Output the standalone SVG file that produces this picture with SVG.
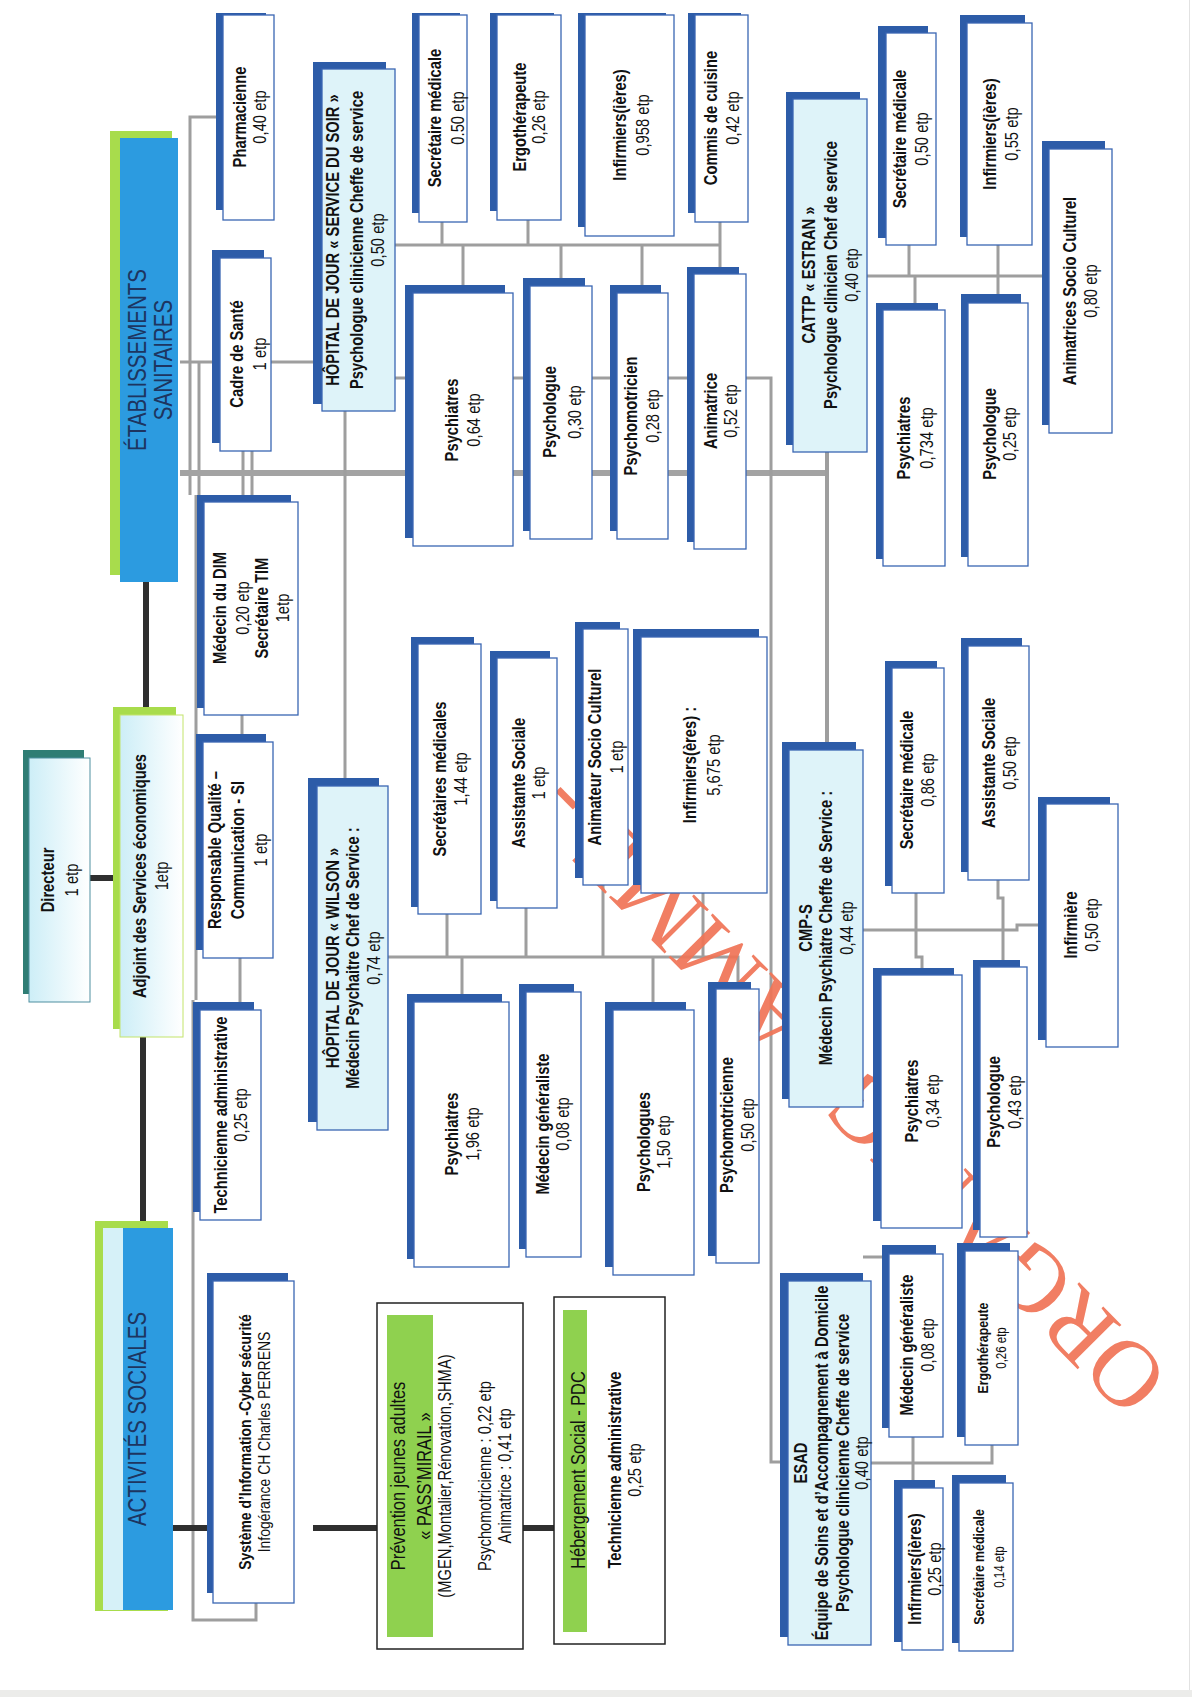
<svg xmlns="http://www.w3.org/2000/svg" width="1192" height="1697" viewBox="0 0 1192 1697">
<defs>
<style>
.bk{fill:#2d5ca8}
.fr{fill:#fff;stroke:#3a66b3;stroke-width:1.3}
.hd{fill:#def3f9;stroke:#3a66b3;stroke-width:1.3}
.gb{fill:#a8dc4c}
.cn{fill:none;stroke:#9e9e9e;stroke-width:3}
.ck{fill:none;stroke:#2f2f2f;stroke-width:6}
.ob{fill:#fff;stroke:#222;stroke-width:1.5}
.gs{fill:#8fd14f}
text{font-family:"Liberation Sans",Arial,sans-serif;font-size:18px;fill:#111;text-anchor:middle}
.b{font-weight:bold}
.t{font-size:25px;fill:#1d3560}
.s{font-size:15px}
.xs{font-size:14px}
.m{font-size:17px}
.l{font-size:20px}
.wm{font-family:"Liberation Serif","Times New Roman",serif;font-size:95px;fill:#f07456;text-anchor:start}
</style>
<linearGradient id="gc" x1="0" x2="1" y1="0" y2="0"><stop offset="0" stop-color="#cdeef7"/><stop offset="1" stop-color="#ffffff"/></linearGradient>
</defs>
<rect x="0" y="0" width="1192" height="1697" fill="#fff"/>
<rect x="0" y="1690" width="1192" height="7" fill="#ececea"/>
<line x1="1189.5" y1="0" x2="1189.5" y2="1690" stroke="#e2e2e2" stroke-width="1"/>

<g id="connectors">
<path class="cn" d="M216,117 H190 V495 M196,495 V1000 M193,1000 V1620 H256 V1600"/>
<path class="cn" d="M199,362 V495"/>
<path class="cn" d="M180,362 H313"/>
<path class="cn" d="M243,451 V495 M252,451 V495"/>
<path class="cn" d="M242,715 V734 M240,958 V1002"/>
<path class="cn" d="M180,473 H827" style="stroke-width:6;stroke:#a3a3a3"/>
<path class="cn" d="M827,452 V742" style="stroke-width:4"/>
<path class="cn" d="M345,411 V778"/>
<path class="cn" d="M395,378 H771 V1462 H780"/>
<path class="cn" d="M395,245 H720 M442,222 V245 M528,220 V245 M720,222 V267 M463,245 V285 M561,245 V278 M642,245 V285"/>
<path class="cn" d="M388,957 H738 V982 M447,914 V957 M526,908 V957 M603,885 V957 M703,893 V957 M462,957 V994 M653,957 V1002"/>
<path class="cn" d="M867,276 H1042 M909,245 V276 M915,276 V303 M998,245 V294"/>
<path class="cn" d="M863,930 H1017 V925 H1038 M916,893 V957 H922 V968 M998,880 V898 H1003 V960"/>
<path class="cn" d="M871,1463 H992 V1445 M913,1437 V1480 M863,1257 H882"/>
<path class="ck" d="M146,582 V707 M87,878 H113 M143,1037 V1221 M168,1528 H213 M313,1528 H377 M523,1528 H554"/>
</g>

<g id="watermark" opacity="0.92">
<text class="wm" transform="translate(1172,1376) rotate(-134.8)">ORGANIGRAMME -</text>
</g>

<g id="etablissements">
<rect class="gb" x="110" y="131" width="62" height="444"/>
<rect x="120" y="138" width="58" height="444" fill="#2c9be0"/>
<g transform="translate(0,360) rotate(-90) scale(0.82,1)"><text class="t" y="146">ÉTABLISSEMENTS</text><text class="t" y="172">SANITAIRES</text></g>
</g>

<g id="pharmacienne">
<rect class="bk" x="216" y="13" width="50" height="197"/><rect class="fr" x="223" y="15" width="51" height="205"/>
<g transform="translate(0,117) rotate(-90) scale(0.82,1)"><text class="b" y="246">Pharmacienne</text><text y="266">0,40 etp</text></g>
</g>

<g id="cadre">
<rect class="bk" x="212" y="250" width="52" height="193"/><rect class="fr" x="220" y="258" width="51" height="193"/>
<g transform="translate(0,354) rotate(-90) scale(0.82,1)"><text class="b" y="243">Cadre de Santé</text><text y="266">1 etp</text></g>
</g>

<g id="hj-soir">
<rect class="bk" x="313" y="62" width="73" height="342"/><rect class="hd" x="322" y="69" width="73" height="342"/>
<g transform="translate(0,240) rotate(-90) scale(0.82,1)"><text class="b" y="339">HÔPITAL DE JOUR « SERVICE DU SOIR »</text><text class="b" y="363">Psychologue clinicienne Cheffe de service</text><text y="384">0,50 etp</text></g>
</g>

<g id="soir-secretaire">
<rect class="bk" x="412" y="13" width="48" height="200"/><rect class="fr" x="419" y="15" width="48" height="207"/>
<g transform="translate(0,118) rotate(-90) scale(0.82,1)"><text class="b" y="441">Secrétaire médicale</text><text y="464">0.50 etp</text></g>
</g>

<g id="soir-ergo">
<rect class="bk" x="490" y="13" width="64" height="198"/><rect class="fr" x="497" y="15" width="64" height="205"/>
<g transform="translate(0,117) rotate(-90) scale(0.82,1)"><text class="b" y="526">Ergothérapeute</text><text y="545">0,26 etp</text></g>
</g>

<g id="soir-infirmiers">
<rect class="bk" x="578" y="13" width="88" height="214"/><rect class="fr" x="585" y="15" width="89" height="221"/>
<g transform="translate(0,125) rotate(-90) scale(0.82,1)"><text class="b" y="626">Infirmiers(ières)</text><text y="649">0,958 etp</text></g>
</g>

<g id="soir-commis">
<rect class="bk" x="688" y="13" width="53" height="200"/><rect class="fr" x="695" y="15" width="53" height="207"/>
<g transform="translate(0,118) rotate(-90) scale(0.82,1)"><text class="b" y="717">Commis de cuisine</text><text y="739">0,42 etp</text></g>
</g>

<g id="soir-psychiatres">
<rect class="bk" x="405" y="285" width="100" height="253"/><rect class="fr" x="413" y="293" width="100" height="253"/>
<g transform="translate(0,420) rotate(-90) scale(0.82,1)"><text class="b" y="458">Psychiatres</text><text y="480">0,64 etp</text></g>
</g>

<g id="soir-psychologue">
<rect class="bk" x="523" y="278" width="62" height="253"/><rect class="fr" x="530" y="286" width="62" height="253"/>
<g transform="translate(0,412) rotate(-90) scale(0.82,1)"><text class="b" y="556">Psychologue</text><text y="581">0,30 etp</text></g>
</g>

<g id="soir-psychomot">
<rect class="bk" x="610" y="285" width="51" height="246"/><rect class="fr" x="617" y="293" width="51" height="246"/>
<g transform="translate(0,416) rotate(-90) scale(0.82,1)"><text class="b" y="637">Psychomotricien</text><text y="659">0,28 etp</text></g>
</g>

<g id="soir-animatrice">
<rect class="bk" x="687" y="267" width="52" height="275"/><rect class="fr" x="694" y="274" width="52" height="275"/>
<g transform="translate(0,411) rotate(-90) scale(0.82,1)"><text class="b" y="717">Animatrice</text><text y="737">0,52 etp</text></g>
</g>

<g id="directeur">
<rect x="23" y="750" width="61" height="244" fill="#2f7d74"/><rect x="29" y="758" width="61" height="244" fill="url(#gc)" stroke="#4f8fa0" stroke-width="1"/>
<g transform="translate(0,880) rotate(-90) scale(0.82,1)"><text class="b" y="54">Directeur</text><text y="78">1 etp</text></g>
</g>

<g id="adjoint">
<rect class="gb" x="113" y="707" width="63" height="322"/><rect x="120" y="715" width="63" height="322" fill="url(#gc)" stroke="#c3e46a" stroke-width="1"/>
<g transform="translate(0,876) rotate(-90) scale(0.82,1)"><text class="b" y="146">Adjoint des Services économiques</text><text y="168">1etp</text></g>
</g>

<g id="dim">
<rect class="bk" x="197" y="495" width="94" height="213"/><rect class="fr" x="204" y="502" width="94" height="213"/>
<g transform="translate(0,608) rotate(-90) scale(0.82,1)"><text class="b" y="226">Médecin du DIM</text><text y="249">0,20 etp</text><text class="b" y="268">Secrétaire TIM</text><text y="289">1etp</text></g>
</g>

<g id="qualite">
<rect class="bk" x="196" y="734" width="70" height="216"/><rect class="fr" x="203" y="742" width="70" height="216"/>
<g transform="translate(0,850) rotate(-90) scale(0.82,1)"><text class="b" y="221">Responsable Qualité –</text><text class="b" y="244">Communication - SI</text><text y="267">1 etp</text></g>
</g>

<g id="technicienne">
<rect class="bk" x="193" y="1002" width="61" height="210"/><rect class="fr" x="200" y="1010" width="61" height="210"/>
<g transform="translate(0,1115) rotate(-90) scale(0.82,1)"><text class="b" y="227">Technicienne administrative</text><text y="247">0,25 etp</text></g>
</g>

<g id="hj-wilson">
<rect class="bk" x="308" y="778" width="71" height="344"/><rect class="hd" x="317" y="786" width="71" height="344"/>
<g transform="translate(0,958) rotate(-90) scale(0.82,1)"><text class="b" y="339">HÔPITAL DE JOUR « WILSON »</text><text class="b" y="359">Médecin Psychaitre Chef de Service :</text><text y="380">0,74 etp</text></g>
</g>

<g id="wilson-secretaires">
<rect class="bk" x="411" y="637" width="63" height="270"/><rect class="fr" x="418" y="644" width="63" height="270"/>
<g transform="translate(0,779) rotate(-90) scale(0.82,1)"><text class="b" y="446">Secrétaires médicales</text><text y="467">1,44 etp</text></g>
</g>

<g id="wilson-assistante">
<rect class="bk" x="490" y="651" width="60" height="250"/><rect class="fr" x="497" y="658" width="60" height="250"/>
<g transform="translate(0,783) rotate(-90) scale(0.82,1)"><text class="b" y="525">Assistante Sociale</text><text y="545">1 etp</text></g>
</g>

<g id="wilson-animateur">
<rect class="bk" x="575" y="622" width="45" height="256"/><rect class="fr" x="583" y="629" width="45" height="256"/>
<g transform="translate(0,757) rotate(-90) scale(0.82,1)"><text class="b" y="601">Animateur Socio Culturel</text><text y="623">1 etp</text></g>
</g>

<g id="wilson-infirmiers">
<rect class="bk" x="633" y="629" width="126" height="256"/><rect class="fr" x="641" y="637" width="126" height="256"/>
<g transform="translate(0,765) rotate(-90) scale(0.82,1)"><text class="b" y="696">Infirmiers(ères) :</text><text y="720">5,675 etp</text></g>
</g>

<g id="wilson-psychiatres">
<rect class="bk" x="407" y="994" width="95" height="265"/><rect class="fr" x="414" y="1002" width="95" height="265"/>
<g transform="translate(0,1134) rotate(-90) scale(0.82,1)"><text class="b" y="458">Psychiatres</text><text y="479">1,96 etp</text></g>
</g>

<g id="wilson-medecin">
<rect class="bk" x="519" y="984" width="55" height="265"/><rect class="fr" x="526" y="992" width="55" height="265"/>
<g transform="translate(0,1124) rotate(-90) scale(0.82,1)"><text class="b" y="549">Médecin généraliste</text><text y="569">0,08 etp</text></g>
</g>

<g id="wilson-psychologues">
<rect class="bk" x="605" y="1002" width="81" height="265"/><rect class="fr" x="613" y="1010" width="81" height="265"/>
<g transform="translate(0,1142) rotate(-90) scale(0.82,1)"><text class="b" y="650">Psychologues</text><text y="670">1,50 etp</text></g>
</g>

<g id="wilson-psychomot">
<rect class="bk" x="708" y="982" width="43" height="274"/><rect class="fr" x="716" y="989" width="43" height="274"/>
<g transform="translate(0,1125) rotate(-90) scale(0.82,1)"><text class="b" y="733">Psychomotricienne</text><text y="754">0,50 etp</text></g>
</g>

<g id="cattp">
<rect class="bk" x="786" y="92" width="74" height="353"/><rect class="hd" x="793" y="99" width="74" height="353"/>
<g transform="translate(0,275) rotate(-90) scale(0.82,1)"><text class="b" y="815">CATTP « ESTRAN »</text><text class="b" y="837">Psychologue clinicien Chef de service</text><text y="858">0,40 etp</text></g>
</g>

<g id="cattp-secretaire">
<rect class="bk" x="878" y="26" width="50" height="212"/><rect class="fr" x="886" y="33" width="50" height="212"/>
<g transform="translate(0,139) rotate(-90) scale(0.82,1)"><text class="b" y="906">Secrétaire médicale</text><text y="928">0,50 etp</text></g>
</g>

<g id="cattp-infirmiers">
<rect class="bk" x="960" y="15" width="65" height="222"/><rect class="fr" x="967" y="23" width="65" height="222"/>
<g transform="translate(0,134) rotate(-90) scale(0.82,1)"><text class="b" y="996">Infirmiers(ières)</text><text y="1018">0,55 etp</text></g>
</g>

<g id="cattp-animatrices">
<rect class="bk" x="1042" y="141" width="63" height="284"/><rect class="fr" x="1049" y="149" width="63" height="284"/>
<g transform="translate(0,291) rotate(-90) scale(0.82,1)"><text class="b" y="1076">Animatrices Socio Culturel</text><text y="1097">0,80 etp</text></g>
</g>

<g id="cattp-psychiatres">
<rect class="bk" x="876" y="303" width="62" height="256"/><rect class="fr" x="883" y="310" width="62" height="256"/>
<g transform="translate(0,438) rotate(-90) scale(0.82,1)"><text class="b" y="910">Psychiatres</text><text y="933">0,734 etp</text></g>
</g>

<g id="cattp-psychologue">
<rect class="bk" x="961" y="294" width="60" height="263"/><rect class="fr" x="968" y="303" width="60" height="263"/>
<g transform="translate(0,434) rotate(-90) scale(0.82,1)"><text class="b" y="996">Psychologue</text><text y="1016">0,25 etp</text></g>
</g>

<g id="cmps">
<rect class="bk" x="782" y="742" width="74" height="357"/><rect class="hd" x="789" y="750" width="74" height="357"/>
<g transform="translate(0,928) rotate(-90) scale(0.82,1)"><text class="b" y="812">CMP-S</text><text class="b" y="832">Médecin Psychiatre Cheffe de Service :</text><text y="853">0,44 etp</text></g>
</g>

<g id="cmps-secretaire">
<rect class="bk" x="885" y="661" width="52" height="225"/><rect class="fr" x="892" y="668" width="52" height="225"/>
<g transform="translate(0,780) rotate(-90) scale(0.82,1)"><text class="b" y="913">Secrétaire médicale</text><text y="934">0,86 etp</text></g>
</g>

<g id="cmps-assistante">
<rect class="bk" x="961" y="638" width="61" height="234"/><rect class="fr" x="968" y="646" width="61" height="234"/>
<g transform="translate(0,763) rotate(-90) scale(0.82,1)"><text class="b" y="995">Assistante Sociale</text><text y="1016">0,50 etp</text></g>
</g>

<g id="cmps-infirmiere">
<rect class="bk" x="1038" y="797" width="72" height="243"/><rect class="fr" x="1046" y="804" width="72" height="243"/>
<g transform="translate(0,925) rotate(-90) scale(0.82,1)"><text class="b" y="1077">Infirmière</text><text y="1098">0,50 etp</text></g>
</g>

<g id="cmps-psychiatres">
<rect class="bk" x="873" y="968" width="81" height="253"/><rect class="fr" x="881" y="975" width="81" height="253"/>
<g transform="translate(0,1101) rotate(-90) scale(0.82,1)"><text class="b" y="918">Psychiatres</text><text y="939">0,34 etp</text></g>
</g>

<g id="cmps-psychologue">
<rect class="bk" x="973" y="960" width="47" height="270"/><rect class="fr" x="980" y="967" width="47" height="270"/>
<g transform="translate(0,1102) rotate(-90) scale(0.82,1)"><text class="b" y="1000">Psychologue</text><text y="1021">0,43 etp</text></g>
</g>

<g id="esad">
<rect class="bk" x="780" y="1273" width="83" height="364"/><rect class="hd" x="788" y="1281" width="83" height="364"/>
<g transform="translate(0,1463) rotate(-90) scale(0.82,1)"><text class="b" y="807">ESAD</text><text class="b" y="828">Équipe de Soins et d’Accompagnement à Domicile</text><text class="b" y="849">Psychologue clinicienne Cheffe de service</text><text y="868">0,40 etp</text></g>
</g>

<g id="esad-medecin">
<rect class="bk" x="882" y="1245" width="54" height="183"/><rect class="fr" x="889" y="1254" width="54" height="183"/>
<g transform="translate(0,1345) rotate(-90) scale(0.82,1)"><text class="b" y="913">Médecin généraliste</text><text y="934">0,08 etp</text></g>
</g>

<g id="esad-ergo">
<rect class="bk" x="957" y="1243" width="53" height="194"/><rect class="fr" x="965" y="1251" width="53" height="194"/>
<g transform="translate(0,1348) rotate(-90) scale(0.82,1)"><text class="b s" y="988">Ergothérapeute</text><text class="xs" y="1006">0,26 etp</text></g>
</g>

<g id="esad-infirmiers">
<rect class="bk" x="894" y="1480" width="41" height="162"/><rect class="fr" x="902" y="1488" width="41" height="162"/>
<g transform="translate(0,1569) rotate(-90) scale(0.82,1)"><text class="b" y="921">Infirmiers(ières)</text><text y="941">0,25 etp</text></g>
</g>

<g id="esad-secretaire">
<rect class="bk" x="952" y="1475" width="54" height="168"/><rect class="fr" x="959" y="1483" width="54" height="168"/>
<g transform="translate(0,1567) rotate(-90) scale(0.82,1)"><text class="b s" y="984">Secrétaire médicale</text><text class="xs" y="1004">0,14 etp</text></g>
</g>

<g id="activites-sociales">
<rect class="gb" x="95" y="1221" width="73" height="390"/>
<rect x="103" y="1228" width="20" height="382" fill="#d6f1f8"/>
<rect x="123" y="1228" width="50" height="382" fill="#2c9be0"/>
<g transform="translate(0,1419) rotate(-90) scale(0.82,1)"><text class="t" y="146">ACTIVITÉS SOCIALES</text></g>
</g>

<g id="systeme-information">
<rect class="bk" x="207" y="1273" width="81" height="320"/><rect class="fr" x="213" y="1281" width="81" height="322"/>
<g transform="translate(0,1442) rotate(-90) scale(0.82,1)"><text class="b m" y="251">Système d’Information -Cyber sécurité</text><text class="m" y="270">Infogérance CH Charles PERRENS</text></g>
</g>

<g id="prevention">
<rect class="ob" x="377" y="1303" width="146" height="346"/>
<rect class="gs" x="387" y="1315" width="46" height="322"/>
<g transform="translate(0,1476) rotate(-90) scale(0.82,1)"><text class="l" y="405">Prévention jeunes adultes</text><text class="l" y="431">« PASS’MIRAIL »</text><text y="451">(MGEN,Montalier,Rénovation,SHMA)</text><text y="491">Psychomotricienne : 0,22 etp</text><text y="511">Animatrice : 0,41 etp</text></g>
</g>

<g id="hebergement">
<rect class="ob" x="554" y="1297" width="111" height="347"/>
<rect class="gs" x="563" y="1310" width="24" height="322"/>
<g transform="translate(0,1470) rotate(-90) scale(0.82,1)"><text class="l" y="585">Hébergement Social - PDC</text><text class="b" y="621">Technicienne administrative</text><text y="641">0,25 etp</text></g>
</g>
</svg>
